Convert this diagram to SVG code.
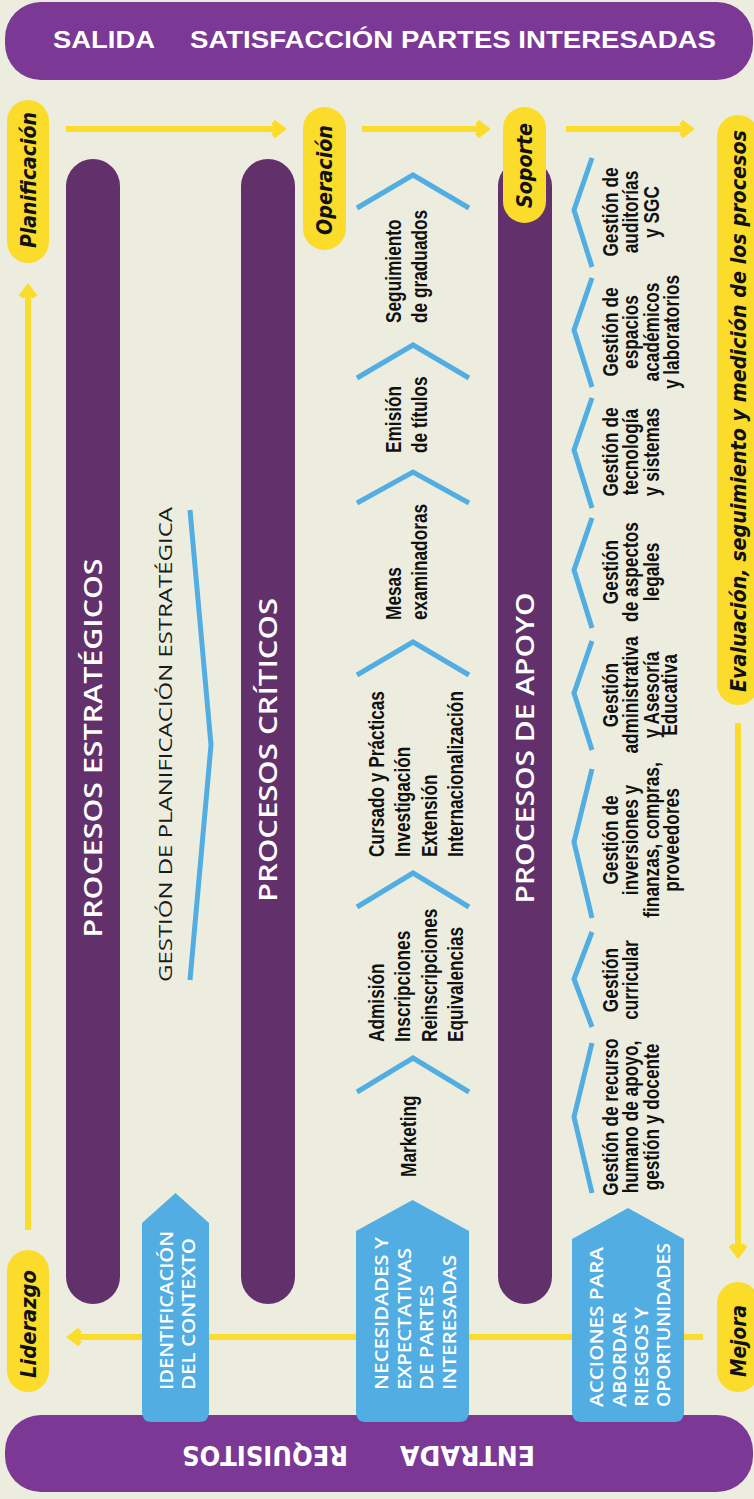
<svg xmlns="http://www.w3.org/2000/svg" width="754" height="1499" viewBox="0 0 754 1499">
<defs>
<style>
.bar{fill:#7B3894}
.col{fill:#62306B}
.pill{fill:#FCDC2B}
.box{fill:#52AEE2}
.chev{fill:none;stroke:#52AEE2;stroke-width:5;stroke-linejoin:miter}
.conn{fill:none;stroke:#FCDC2B;stroke-width:6}
.pl{font-family:"DejaVu Sans",sans-serif;font-weight:bold;font-style:italic;font-size:21px;fill:#111}
.ttl{font-family:"Open Sans","DejaVu Sans",sans-serif;font-weight:600;font-size:25px;fill:#fff}
.bx{font-family:"Open Sans","DejaVu Sans",sans-serif;font-weight:600;font-size:17.5px;fill:#fff}
.bt{font-family:"Liberation Sans",Arial,sans-serif;font-weight:bold;font-size:24px;fill:#fff}
.bb{font-family:"DejaVu Sans",sans-serif;font-weight:bold;font-size:26px;fill:#fff}
.gp{font-family:"Open Sans","DejaVu Sans",sans-serif;font-weight:500;font-size:18px;fill:#1a1a1a}
.st{font-family:"Liberation Sans",Arial,sans-serif;font-weight:bold;font-size:22px;fill:#111}
</style>
<marker id="ah" markerUnits="userSpaceOnUse" markerWidth="40" markerHeight="30" viewBox="0 0 40 30" refX="26" refY="15" orient="auto">
<path d="M17,8 L26,15 L17,22" fill="none" stroke="#FCDC2B" stroke-width="6"/>
</marker>
</defs>
<rect x="0" y="0" width="754" height="1499" fill="#EDEDDF"/>

<g id="salida">
<rect class="bar" x="5" y="2" width="748" height="78" rx="36"/>
<text class="bt" x="53" y="48" textLength="102" lengthAdjust="spacingAndGlyphs">SALIDA</text>
<text class="bt" x="190" y="48" textLength="526" lengthAdjust="spacingAndGlyphs">SATISFACCIÓN PARTES INTERESADAS</text>
</g>

<g id="entrada">
<rect class="bar" x="5" y="1415" width="748" height="77" rx="36"/>
<text class="bb" transform="rotate(180 467.5 1455.5)" x="467.5" y="1465" text-anchor="middle" textLength="135" lengthAdjust="spacingAndGlyphs">ENTRADA</text>
<text class="bb" transform="rotate(180 265 1455.5)" x="265" y="1465" text-anchor="middle" textLength="166" lengthAdjust="spacingAndGlyphs">REQUISITOS</text>
</g>

<g id="connectors">
<path class="conn" d="M66,129 H282" marker-end="url(#ah)"/>
<path class="conn" d="M362,129 H486" marker-end="url(#ah)"/>
<path class="conn" d="M566,129 H690" marker-end="url(#ah)"/>
<path class="conn" d="M28,1230 V288" marker-end="url(#ah)"/>
<path class="conn" d="M738,723 V1254" marker-end="url(#ah)"/>
<path class="conn" d="M703,1337 H71" marker-end="url(#ah)"/>
</g>

<g id="procesos-estrategicos">
<rect class="col" x="66" y="159" width="54" height="1145" rx="27"/>
<text class="ttl" transform="translate(0,748) rotate(-90)" x="0" y="102" text-anchor="middle" textLength="379" lengthAdjust="spacingAndGlyphs">PROCESOS ESTRATÉGICOS</text>
</g>
<g id="procesos-criticos">
<rect class="col" x="241" y="159" width="54" height="1145" rx="27"/>
<text class="ttl" transform="translate(0,750) rotate(-90)" x="0" y="277" text-anchor="middle" textLength="304" lengthAdjust="spacingAndGlyphs">PROCESOS CRÍTICOS</text>
</g>
<g id="procesos-apoyo">
<rect class="col" x="498" y="159" width="54" height="1145" rx="27"/>
<text class="ttl" transform="translate(0,748) rotate(-90)" x="0" y="534" text-anchor="middle" textLength="311" lengthAdjust="spacingAndGlyphs">PROCESOS DE APOYO</text>
</g>

<g id="gestion-planificacion">
<polyline class="chev" points="190,510 211,745 190,980"/>
<text class="gp" transform="translate(0,982) rotate(-90)" x="0" y="171.5" textLength="475" lengthAdjust="spacingAndGlyphs">GESTIÓN DE PLANIFICACIÓN ESTRATÉGICA</text>
</g>

<g id="planificacion">
<rect class="pill" x="7" y="100" width="42" height="163" rx="21"/>
<text class="pl" transform="translate(0,180) rotate(-90)" x="0" y="35.5" text-anchor="middle" textLength="136" lengthAdjust="spacingAndGlyphs">Planificación</text>
</g>
<g id="liderazgo">
<rect class="pill" x="7" y="1250" width="42" height="142" rx="21"/>
<text class="pl" transform="translate(0,1324) rotate(-90)" x="0" y="35.5" text-anchor="middle" textLength="108" lengthAdjust="spacingAndGlyphs">Liderazgo</text>
</g>
<g id="operacion">
<rect class="pill" x="303" y="107" width="43" height="143" rx="21.5"/>
<text class="pl" transform="translate(0,180) rotate(-90)" x="0" y="332" text-anchor="middle" textLength="110" lengthAdjust="spacingAndGlyphs">Operación</text>
</g>
<g id="soporte">
<rect class="pill" x="503" y="107" width="43" height="116" rx="21.5"/>
<text class="pl" transform="translate(0,165.5) rotate(-90)" x="0" y="532" text-anchor="middle" textLength="85" lengthAdjust="spacingAndGlyphs">Soporte</text>
</g>
<g id="evaluacion">
<rect class="pill" x="717" y="115" width="42" height="590" rx="21"/>
<text class="pl" transform="translate(0,411) rotate(-90)" x="0" y="745.5" text-anchor="middle" textLength="562" lengthAdjust="spacingAndGlyphs">Evaluación, seguimiento y medición de los procesos</text>
</g>
<g id="mejora">
<rect class="pill" x="717" y="1282" width="42" height="110" rx="21"/>
<text class="pl" transform="translate(0,1341) rotate(-90)" x="0" y="745.5" text-anchor="middle" textLength="72" lengthAdjust="spacingAndGlyphs">Mejora</text>
</g>

<g id="contexto">
<path class="box" d="M142,1223 L175.5,1193 L209,1223 V1412 Q209,1422 199,1422 H152 Q142,1422 142,1412 Z"/>
<text class="bx" transform="translate(0,1390) rotate(-90)"><tspan x="0" y="173" textLength="159" lengthAdjust="spacingAndGlyphs">IDENTIFICACIÓN</tspan><tspan x="0" y="195" textLength="152" lengthAdjust="spacingAndGlyphs">DEL CONTEXTO</tspan></text>
</g>
<g id="necesidades">
<path class="box" d="M356,1231 L412.5,1200 L469,1231 V1412 Q469,1422 459,1422 H366 Q356,1422 356,1412 Z"/>
<text class="bx" transform="translate(0,1390) rotate(-90)"><tspan x="0" y="388" textLength="153" lengthAdjust="spacingAndGlyphs">NECESIDADES Y</tspan><tspan x="0" y="411" textLength="142" lengthAdjust="spacingAndGlyphs">EXPECTATIVAS</tspan><tspan x="0" y="433" textLength="105" lengthAdjust="spacingAndGlyphs">DE PARTES</tspan><tspan x="0" y="456" textLength="135" lengthAdjust="spacingAndGlyphs">INTERESADAS</tspan></text>
</g>
<g id="acciones">
<path class="box" d="M572,1239 L628,1208 L684,1239 V1412 Q684,1422 674,1422 H582 Q572,1422 572,1412 Z"/>
<text class="bx" transform="translate(0,1407) rotate(-90)"><tspan x="0" y="603" textLength="160" lengthAdjust="spacingAndGlyphs">ACCIONES PARA</tspan><tspan x="0" y="626" textLength="95" lengthAdjust="spacingAndGlyphs">ABORDAR</tspan><tspan x="0" y="648" textLength="100" lengthAdjust="spacingAndGlyphs">RIESGOS Y</tspan><tspan x="0" y="670" textLength="164" lengthAdjust="spacingAndGlyphs">OPORTUNIDADES</tspan></text>
</g>

<g id="operacion-pasos">
<polyline class="chev" points="357,208 413,175 469,208"/>
<polyline class="chev" points="357,378 413,345 469,378"/>
<polyline class="chev" points="357,503 413,472 469,503"/>
<polyline class="chev" points="357,675 413,642 469,675"/>
<polyline class="chev" points="357,907 413,873 469,907"/>
<polyline class="chev" points="357,1092 413,1058 469,1092"/>
<g id="seguimiento" transform="translate(0,323) rotate(-90) scale(0.785,1)"><text class="st"><tspan x="0" y="401">Seguimiento</tspan><tspan x="0" y="427.5">de graduados</tspan></text></g>
<g id="emision" transform="translate(0,453) rotate(-90) scale(0.785,1)"><text class="st"><tspan x="0" y="401">Emisión</tspan><tspan x="0" y="427.5">de títulos</tspan></text></g>
<g id="mesas" transform="translate(0,620) rotate(-90) scale(0.785,1)"><text class="st"><tspan x="0" y="401">Mesas</tspan><tspan x="0" y="427.5">examinadoras</tspan></text></g>
<g id="cursado" transform="translate(0,857) rotate(-90) scale(0.785,1)"><text class="st"><tspan x="0" y="384.5">Cursado y Prácticas</tspan><tspan x="0" y="410.5">Investigación</tspan><tspan x="0" y="437">Extensión</tspan><tspan x="0" y="463.5">Internacionalización</tspan></text></g>
<g id="admision" transform="translate(0,1042) rotate(-90) scale(0.785,1)"><text class="st"><tspan x="0" y="384.5">Admisión</tspan><tspan x="0" y="410.5">Inscripciones</tspan><tspan x="0" y="437">Reinscripciones</tspan><tspan x="0" y="463.5">Equivalencias</tspan></text></g>
<g id="marketing" transform="translate(0,1177) rotate(-90) scale(0.785,1)"><text class="st"><tspan x="0" y="416.5">Marketing</tspan></text></g>
</g>

<g id="soporte-pasos">
<polyline class="chev" points="592,158 574,210 592,267"/>
<polyline class="chev" points="592,278 574,330 592,387"/>
<polyline class="chev" points="592,398 574,450 592,508"/>
<polyline class="chev" points="592,518 574,570 592,628"/>
<polyline class="chev" points="592,641 574,693 592,750"/>
<polyline class="chev" points="592,769 574,842 592,918"/>
<polyline class="chev" points="592,932 574,979 592,1027"/>
<polyline class="chev" points="592,1043 574,1117 592,1193"/>
<g id="auditorias" transform="translate(0,212) rotate(-90) scale(0.785,1)"><text class="st" text-anchor="middle"><tspan x="0" y="618">Gestión de</tspan><tspan x="0" y="638.5">auditorías</tspan><tspan x="0" y="659">y SGC</tspan></text></g>
<g id="espacios" transform="translate(0,332) rotate(-90) scale(0.785,1)"><text class="st" text-anchor="middle"><tspan x="0" y="618">Gestión de</tspan><tspan x="0" y="638.5">espacios</tspan><tspan x="0" y="659">académicos</tspan><tspan x="0" y="679.5">y laboratorios</tspan></text></g>
<g id="tecnologia" transform="translate(0,452) rotate(-90) scale(0.785,1)"><text class="st" text-anchor="middle"><tspan x="0" y="618">Gestión de</tspan><tspan x="0" y="638.5">tecnología</tspan><tspan x="0" y="659">y sistemas</tspan></text></g>
<g id="legales" transform="translate(0,572) rotate(-90) scale(0.785,1)"><text class="st" text-anchor="middle"><tspan x="0" y="618">Gestión</tspan><tspan x="0" y="638.5">de aspectos</tspan><tspan x="0" y="659">legales</tspan></text></g>
<g id="administrativa" transform="translate(0,695) rotate(-90) scale(0.785,1)"><text class="st" text-anchor="middle"><tspan x="0" y="618">Gestión</tspan><tspan x="0" y="638.5">administrativa</tspan><tspan x="0" y="659">y Asesoría</tspan><tspan x="0" y="677">Educativa</tspan></text></g>
<g id="inversiones" transform="translate(0,840) rotate(-90) scale(0.785,1)"><text class="st" text-anchor="middle"><tspan x="0" y="618">Gestión de</tspan><tspan x="0" y="638.5">inversiones y</tspan><tspan x="0" y="659">finanzas, compras,</tspan><tspan x="0" y="679.5">proveedores</tspan></text></g>
<g id="curricular" transform="translate(0,980) rotate(-90) scale(0.785,1)"><text class="st" text-anchor="middle"><tspan x="0" y="618">Gestión</tspan><tspan x="0" y="638.5">curricular</tspan></text></g>
<g id="recurso-humano" transform="translate(0,1117) rotate(-90) scale(0.785,1)"><text class="st" text-anchor="middle"><tspan x="0" y="618">Gestión de recurso</tspan><tspan x="0" y="638.5">humano de apoyo,</tspan><tspan x="0" y="659">gestión y docente</tspan></text></g>
</g>
</svg>
